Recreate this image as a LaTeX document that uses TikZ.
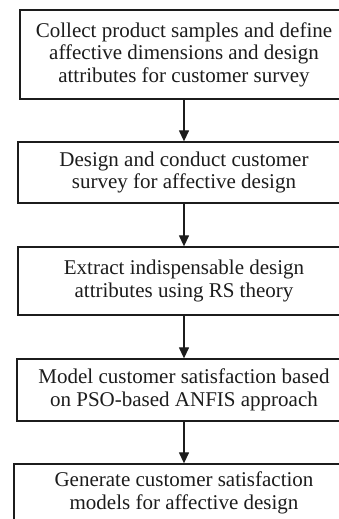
\documentclass[tikz,border=0pt]{standalone}
\usepackage{fontspec}
\setmainfont{Liberation Serif}
\usetikzlibrary{arrows.meta}
\definecolor{ink}{HTML}{1C1C1C}
\tikzset{
  stepbox/.style={draw=ink, line width=1.3pt, rectangle, align=center, text=ink,
    font=\fontsize{21pt}{22.5pt}\selectfont, inner sep=0pt},
  flow/.style={draw=ink, line width=1.3pt, -{Triangle[width=10pt,length=11pt]}}
}
\begin{document}
\begin{tikzpicture}[x=1pt,y=1pt]
\useasboundingbox (0,0) rectangle (339,519);
\clip (0,0) rectangle (339,519);
\node[stepbox, minimum width=328pt, minimum height=89pt] (b1) at (184,464.5)
  {Collect product samples and define\\affective dimensions and design\\attributes for customer survey};
\node[stepbox, minimum width=332pt, minimum height=61pt] (b2) at (184,346.5)
  {Design and conduct customer\\survey for affective design};
\node[stepbox, minimum width=332pt, minimum height=68pt] (b3) at (184,238)
  {Extract indispensable design\\attributes using RS theory};
\node[stepbox, minimum width=334pt, minimum height=62pt] (b4) at (184,129)
  {Model customer satisfaction based\\on PSO-based ANFIS approach};
\node[stepbox, minimum width=340pt, minimum height=58pt] (b5) at (184,26)
  {Generate customer satisfaction\\models for affective design};
\draw[flow] (b1.south) -- (b2.north);
\draw[flow] (b2.south) -- (b3.north);
\draw[flow] (b3.south) -- (b4.north);
\draw[flow] (b4.south) -- (b5.north);
\end{tikzpicture}
\end{document}
